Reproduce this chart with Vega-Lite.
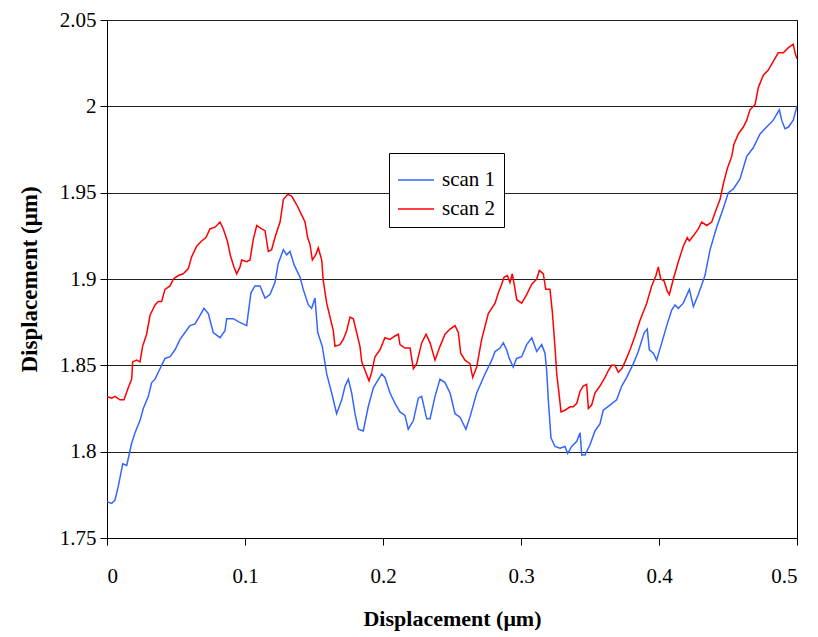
{
  "$schema": "https://vega.github.io/schema/vega-lite/v6.json",
  "autosize": "none",
  "width": 690,
  "height": 518,
  "padding": {"left": 107, "top": 20, "right": 21, "bottom": 99},
  "background": "white",
  "config": {
    "view": {"stroke": "#000000", "strokeWidth": 1},
    "font": "Liberation Serif",
    "axis": {"labelFont": "Liberation Serif", "titleFont": "Liberation Serif", "labelFontSize": 21, "titleFontSize": 22, "titleFontWeight": "bold", "labelColor": "#000", "titleColor": "#000", "domainColor": "#000", "tickColor": "#000", "tickSize": 7}
  },
  "datasets": {
    "s1": [
      [0,1.771],[0.0034,1.770],[0.0058,1.772],[0.0082,1.780],[0.0114,1.793],[0.0143,1.792],[0.0179,1.805],[0.0203,1.811],[0.0239,1.818],[0.0263,1.825],[0.0299,1.832],[0.0324,1.840],[0.0348,1.842],[0.0384,1.848],[0.0420,1.854],[0.0457,1.855],[0.0493,1.859],[0.0529,1.865],[0.0565,1.869],[0.0601,1.873],[0.0638,1.874],[0.0674,1.879],[0.0703,1.883],[0.0734,1.880],[0.0770,1.869],[0.0819,1.866],[0.0855,1.870],[0.0867,1.877],[0.0915,1.877],[0.0959,1.875],[0.1012,1.873],[0.1043,1.892],[0.1072,1.896],[0.1109,1.896],[0.1145,1.889],[0.1181,1.891],[0.1217,1.898],[0.1241,1.909],[0.1278,1.917],[0.1302,1.914],[0.1326,1.916],[0.1357,1.908],[0.1399,1.901],[0.1422,1.894],[0.1459,1.885],[0.1483,1.883],[0.1507,1.889],[0.1527,1.869],[0.1560,1.861],[0.1592,1.845],[0.1628,1.834],[0.1664,1.822],[0.1701,1.830],[0.1725,1.838],[0.1749,1.842],[0.1773,1.834],[0.1797,1.822],[0.1821,1.813],[0.1857,1.812],[0.1893,1.826],[0.1930,1.837],[0.1991,1.845],[0.2014,1.843],[0.2051,1.834],[0.2087,1.828],[0.2123,1.823],[0.2159,1.821],[0.2183,1.813],[0.2220,1.818],[0.2256,1.831],[0.2280,1.832],[0.2317,1.819],[0.2341,1.819],[0.2377,1.832],[0.2413,1.842],[0.2449,1.840],[0.2486,1.834],[0.2522,1.822],[0.2558,1.820],[0.2601,1.813],[0.2630,1.820],[0.2679,1.834],[0.2739,1.845],[0.2788,1.853],[0.2812,1.858],[0.2848,1.860],[0.2872,1.863],[0.2896,1.859],[0.2915,1.854],[0.2944,1.849],[0.2968,1.854],[0.3005,1.855],[0.3041,1.862],[0.3078,1.866],[0.3114,1.858],[0.3150,1.862],[0.3174,1.857],[0.3186,1.847],[0.3198,1.830],[0.3217,1.808],[0.3246,1.803],[0.3283,1.802],[0.3319,1.803],[0.3338,1.799],[0.3367,1.803],[0.3404,1.806],[0.3428,1.811],[0.3440,1.798],[0.3464,1.798],[0.3500,1.804],[0.3536,1.812],[0.3572,1.816],[0.3596,1.824],[0.3645,1.827],[0.3693,1.830],[0.3730,1.838],[0.3766,1.843],[0.3814,1.851],[0.3850,1.858],[0.3893,1.869],[0.3915,1.871],[0.3930,1.859],[0.3959,1.857],[0.3983,1.853],[0.4020,1.863],[0.4056,1.873],[0.4092,1.882],[0.4116,1.885],[0.4140,1.883],[0.4176,1.886],[0.4220,1.894],[0.4249,1.884],[0.4285,1.891],[0.4333,1.902],[0.4370,1.917],[0.4418,1.930],[0.4466,1.941],[0.4502,1.950],[0.4538,1.952],[0.4587,1.958],[0.4636,1.971],[0.4683,1.976],[0.4732,1.984],[0.4780,1.988],[0.4828,1.992],[0.4872,1.998],[0.4889,1.992],[0.4913,1.987],[0.4938,1.988],[0.4973,1.992],[0.4993,1.998],[0.5,2.000]
    ],
    "s2": [
      [0,1.832],[0.0034,1.831],[0.0058,1.832],[0.0094,1.830],[0.0123,1.830],[0.0154,1.837],[0.0179,1.842],[0.0186,1.852],[0.0215,1.853],[0.0239,1.852],[0.0258,1.861],[0.0287,1.868],[0.0312,1.879],[0.0348,1.885],[0.0372,1.887],[0.0396,1.887],[0.0420,1.894],[0.0457,1.896],[0.0481,1.900],[0.0517,1.902],[0.0553,1.903],[0.0589,1.906],[0.0614,1.913],[0.0650,1.919],[0.0686,1.922],[0.0717,1.924],[0.0746,1.929],[0.0783,1.930],[0.0819,1.933],[0.0843,1.929],[0.0872,1.922],[0.0896,1.913],[0.0920,1.907],[0.0940,1.903],[0.0964,1.907],[0.0976,1.911],[0.1012,1.910],[0.1036,1.911],[0.1060,1.923],[0.1085,1.931],[0.1121,1.929],[0.1145,1.928],[0.1169,1.916],[0.1193,1.917],[0.1217,1.924],[0.1254,1.933],[0.1278,1.946],[0.1309,1.949],[0.1338,1.948],[0.1375,1.943],[0.1411,1.937],[0.1435,1.933],[0.1454,1.924],[0.1471,1.920],[0.1488,1.911],[0.1512,1.914],[0.1531,1.918],[0.1556,1.911],[0.1567,1.899],[0.1592,1.886],[0.1616,1.878],[0.1640,1.870],[0.1652,1.861],[0.1688,1.862],[0.1712,1.865],[0.1737,1.870],[0.1761,1.878],[0.1785,1.877],[0.1809,1.869],[0.1833,1.861],[0.1846,1.852],[0.1870,1.847],[0.1899,1.841],[0.1918,1.846],[0.1942,1.855],[0.1978,1.859],[0.2014,1.866],[0.2051,1.865],[0.2087,1.867],[0.2111,1.868],[0.2123,1.862],[0.2159,1.860],[0.2196,1.860],[0.2220,1.848],[0.2244,1.851],[0.2280,1.863],[0.2312,1.868],[0.2341,1.863],[0.2377,1.853],[0.2413,1.861],[0.2449,1.868],[0.2486,1.871],[0.2522,1.873],[0.2546,1.869],[0.2563,1.857],[0.2594,1.853],[0.2630,1.851],[0.2650,1.843],[0.2679,1.849],[0.2715,1.865],[0.2763,1.880],[0.2812,1.886],[0.2836,1.892],[0.2860,1.897],[0.2877,1.901],[0.2901,1.902],[0.2920,1.898],[0.2937,1.903],[0.2957,1.894],[0.2969,1.888],[0.3005,1.886],[0.3041,1.891],[0.3078,1.897],[0.3114,1.900],[0.3133,1.905],[0.3162,1.903],[0.3179,1.894],[0.3210,1.894],[0.3227,1.881],[0.3246,1.861],[0.3259,1.845],[0.3275,1.834],[0.3290,1.823],[0.3319,1.824],[0.3355,1.826],[0.3379,1.826],[0.3404,1.828],[0.3428,1.835],[0.3451,1.838],[0.3476,1.839],[0.3488,1.825],[0.3512,1.827],[0.3536,1.834],[0.3572,1.838],[0.3609,1.843],[0.3633,1.847],[0.3657,1.850],[0.3681,1.850],[0.3705,1.846],[0.3730,1.848],[0.3754,1.852],[0.3790,1.859],[0.3826,1.867],[0.3862,1.876],[0.3911,1.886],[0.3947,1.896],[0.3978,1.902],[0.3995,1.907],[0.4012,1.900],[0.4036,1.899],[0.4060,1.893],[0.4075,1.891],[0.4104,1.900],[0.4140,1.910],[0.4176,1.919],[0.4205,1.924],[0.4220,1.922],[0.4249,1.925],[0.4285,1.929],[0.4309,1.933],[0.4346,1.931],[0.4382,1.933],[0.4413,1.940],[0.4442,1.946],[0.4466,1.955],[0.4495,1.964],[0.4527,1.971],[0.4543,1.978],[0.4575,1.984],[0.4611,1.988],[0.4636,1.992],[0.4659,1.998],[0.4696,2.001],[0.4720,2.011],[0.4756,2.018],[0.4792,2.021],[0.4828,2.026],[0.4864,2.031],[0.4901,2.031],[0.4938,2.034],[0.4973,2.036],[0.4986,2.031],[0.4998,2.028],[0.5,2.028]
    ]
  },
  "layer": [
    {
      "data": {"name": "s1"},
      "transform": [
        {"calculate": "datum[0]", "as": "x"},
        {"calculate": "datum[1]", "as": "y"},
        {"calculate": "'scan 1'", "as": "series"}
      ],
      "mark": {"type": "line", "strokeWidth": 1.5, "clip": true},
      "encoding": {
        "x": {"field": "x", "type": "quantitative", "scale": {"domain": [0, 0.5], "nice": false},
          "axis": {"values": [0, 0.1, 0.2, 0.3, 0.4, 0.5], "format": "~g", "grid": false, "labelPadding": 20, "title": "Displacement (μm)", "titlePadding": 22}},
        "y": {"field": "y", "type": "quantitative", "scale": {"domain": [1.75, 2.05], "nice": false, "zero": false},
          "axis": {"values": [1.75, 1.8, 1.85, 1.9, 1.95, 2, 2.05], "format": "~g", "grid": true, "gridColor": "#222", "gridWidth": 1, "labelPadding": 4, "title": "Displacement (μm)", "titleFontSize": 23, "titlePadding": 18}},
        "color": {"field": "series", "type": "nominal",
          "scale": {"domain": ["scan 1", "scan 2"], "range": ["#3366FF", "#FF0000"]},
          "legend": {"title": null, "orient": "none", "legendX": 282, "legendY": 133, "symbolType": "stroke", "symbolSize": 1300, "symbolStrokeWidth": 1.5, "labelFontSize": 21, "labelFont": "Liberation Serif", "labelColor": "#000", "strokeColor": "#000", "fillColor": "white", "padding": 8, "rowPadding": 0, "labelOffset": 7}},
        "order": {"field": "x", "type": "quantitative"}
      }
    },
    {
      "data": {"name": "s2"},
      "transform": [
        {"calculate": "datum[0]", "as": "x"},
        {"calculate": "datum[1]", "as": "y"},
        {"calculate": "'scan 2'", "as": "series"}
      ],
      "mark": {"type": "line", "strokeWidth": 1.5, "clip": true},
      "encoding": {
        "x": {"field": "x", "type": "quantitative"},
        "y": {"field": "y", "type": "quantitative"},
        "color": {"field": "series", "type": "nominal"},
        "order": {"field": "x", "type": "quantitative"}
      }
    }
  ]
}
